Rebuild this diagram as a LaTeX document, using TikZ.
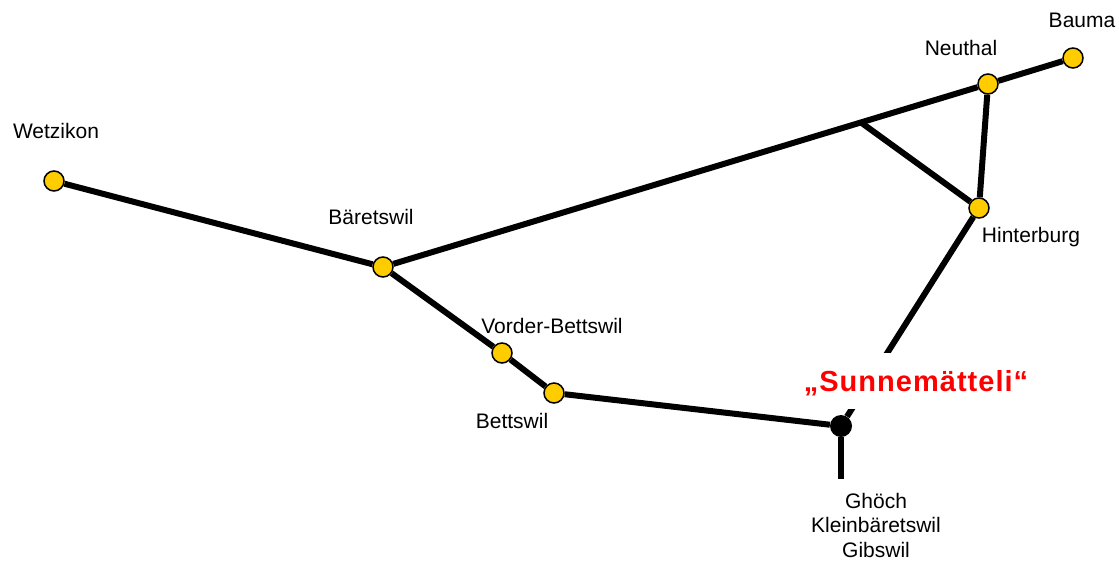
\documentclass[tikz,border=0pt]{standalone}
\usepackage{fontspec}
\setmainfont{Liberation Sans}
\newfontfamily\bigfont[LetterSpace=3.5]{Liberation Sans}
\usepackage{xcolor}
\definecolor{stationyellow}{HTML}{FFCC00}
\definecolor{labelred}{HTML}{FF0000}
\tikzstyle{station} = [circle, draw=black, line width=1.5pt, fill=stationyellow, minimum size=20pt, inner sep=0pt]
\tikzstyle{junction} = [circle, fill=black, minimum size=22pt, inner sep=0pt]
\tikzstyle{track} = [line width=6pt]
\tikzstyle{stationlabel} = [anchor=base, inner sep=0pt, font=\fontsize{21}{24.5}\selectfont]

\begin{document}
\begin{tikzpicture}[x=1pt, y=-1pt]
            \useasboundingbox (0,0) rectangle (1119,560);
            % stations
            \node(wetzikon) [station] at (54,181) {};
            \node(baeretswil) [station] at (383,267) {};
            \node(vorderbettswil) [station] at (502,353) {};
            \node(bettswil) [station] at (554,393) {};
            \node(neuthal) [station] at (988,84) {};
            \node(bauma) [station] at (1073,58) {};
            \node(hinterburg) [station] at (979,208) {};
            \node(sunnemaetteli) [junction] at (841,426) {};
            \coordinate(split) at (861,122.5);
            \coordinate(ghoech) at (841,479);
            % tracks
            \draw[track] (wetzikon) -- (baeretswil);
            \draw[track] (baeretswil) -- (neuthal);
            \draw[track] (neuthal) -- (bauma);
            \draw[track] (split) -- (hinterburg);
            \draw[track] (neuthal) -- (hinterburg);
            \draw[track] (hinterburg) -- (sunnemaetteli);
            \draw[track] (baeretswil) -- (vorderbettswil);
            \draw[track] (vorderbettswil) -- (bettswil);
            \draw[track] (bettswil) -- (sunnemaetteli);
            \draw[track] (sunnemaetteli) -- (ghoech);
            % labels
            \node(lwetzikon) [stationlabel] at (56,138) {Wetzikon};
            \node(lbaeretswil) [stationlabel] at (371,224) {Bäretswil};
            \node(lvorderbettswil) [stationlabel] at (552,333) {Vorder-Bettswil};
            \node(lbettswil) [stationlabel] at (512,428) {Bettswil};
            \node(lneuthal) [stationlabel] at (961,55) {Neuthal};
            \node(lbauma) [stationlabel] at (1082,27) {Bauma};
            \node(lhinterburg) [stationlabel] at (1031,242) {Hinterburg};
            \node(lghoech) [stationlabel, align=center] at (876,557) {Ghöch\\Kleinbäretswil\\Gibswil};
            \node(lsunnemaetteli) [anchor=base, fill=white, inner ysep=0pt, inner xsep=2pt, text height=38pt, text depth=18pt, text=labelred, font=\bigfont\fontsize{29}{31}\selectfont\bfseries] at (916,391) {„Sunnemätteli“};
        \end{tikzpicture}
\end{document}
